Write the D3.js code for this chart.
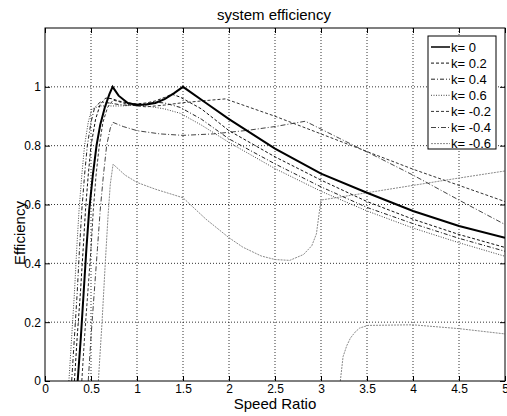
<!DOCTYPE html>
<html>
<head>
<meta charset="utf-8">
<script src="https://cdn.jsdelivr.net/npm/d3@7"></script>
<style>
  body { margin: 0; background: #fff; }
  text { font-family: "Liberation Sans", Arial, sans-serif; fill: #000; }
</style>
</head>
<body>
<div id="chart-area"></div>
<script>
// tick labels
const xTicks = [0, 0.5, 1, 1.5, 2, 2.5, 3, 3.5, 4, 4.5, 5];
const xTickLabels = ["0", "0.5", "1", "1.5", "2", "2.5", "3", "3.5", "4", "4.5", "5"];
const yTicks = [0, 0.2, 0.4, 0.6, 0.8, 1];
const yTickLabels = ["0", "0.2", "0.4", "0.6", "0.8", "1"];

const kLabels = ["k= 0", "k= 0.2", "k= 0.4", "k= 0.6", "k= -0.2", "k= -0.4", "k= -0.6"];

// speed ratio / efficiency
const ratioK0 = [0.355, 0.39, 0.42, 0.45, 0.48, 0.52, 0.56, 0.60, 0.65, 0.70, 0.735, 0.80, 0.90, 1.00, 1.10, 1.20, 1.30, 1.40, 1.50, 1.75, 2.0, 2.5, 3.0, 3.5, 4.0, 4.5, 5.0];
const effK0   = [0, 0.15, 0.30, 0.45, 0.58, 0.70, 0.80, 0.87, 0.93, 0.975, 1.0, 0.97, 0.945, 0.938, 0.94, 0.945, 0.958, 0.978, 1.0, 0.945, 0.89, 0.79, 0.705, 0.64, 0.578, 0.527, 0.487];

const ratioK02 = [0.32, 0.35, 0.385, 0.415, 0.44, 0.47, 0.50, 0.55, 0.60, 0.66, 0.72, 0.80, 0.90, 1.00, 1.10, 1.20, 1.30, 1.38, 1.47, 1.70, 2.0, 2.5, 3.0, 3.5, 4.0, 4.5, 5.0];
const effK02   = [0, 0.15, 0.30, 0.45, 0.58, 0.70, 0.80, 0.89, 0.94, 0.962, 0.96, 0.952, 0.945, 0.942, 0.945, 0.952, 0.964, 0.975, 0.965, 0.925, 0.851, 0.762, 0.683, 0.61, 0.55, 0.498, 0.454];

const ratioK04 = [0.29, 0.32, 0.35, 0.375, 0.40, 0.43, 0.46, 0.50, 0.54, 0.60, 0.70, 0.80, 0.90, 1.00, 1.10, 1.20, 1.30, 1.47, 1.70, 2.0, 2.5, 3.0, 3.5, 4.0, 4.5, 5.0];
const effK04   = [0, 0.15, 0.30, 0.45, 0.58, 0.70, 0.80, 0.88, 0.93, 0.948, 0.945, 0.94, 0.937, 0.937, 0.942, 0.948, 0.945, 0.93, 0.89, 0.823, 0.738, 0.66, 0.59, 0.535, 0.485, 0.441];

const ratioK06 = [0.26, 0.29, 0.32, 0.345, 0.37, 0.40, 0.43, 0.47, 0.51, 0.60, 0.70, 0.80, 0.90, 1.00, 1.10, 1.20, 1.30, 1.47, 1.70, 2.0, 2.5, 3.0, 3.5, 4.0, 4.5, 5.0];
const effK06   = [0, 0.15, 0.30, 0.45, 0.58, 0.70, 0.80, 0.88, 0.925, 0.935, 0.935, 0.935, 0.936, 0.94, 0.935, 0.93, 0.925, 0.91, 0.87, 0.811, 0.722, 0.645, 0.578, 0.52, 0.47, 0.424];

const ratioKm02 = [0.40, 0.43, 0.465, 0.50, 0.525, 0.555, 0.59, 0.63, 0.68, 0.74, 0.80, 0.90, 1.00, 1.10, 1.20, 1.30, 1.47, 1.70, 1.96, 2.5, 3.0, 3.5, 4.0, 4.5, 5.0];
const effKm02   = [0, 0.15, 0.30, 0.45, 0.58, 0.70, 0.80, 0.88, 0.93, 0.955, 0.95, 0.94, 0.935, 0.932, 0.935, 0.938, 0.945, 0.952, 0.959, 0.90, 0.84, 0.78, 0.72, 0.665, 0.61];

const ratioKm04 = [0.47, 0.50, 0.535, 0.57, 0.60, 0.635, 0.67, 0.71, 0.74, 0.85, 1.00, 1.25, 1.50, 1.83, 2.20, 2.50, 2.83, 3.20, 3.64, 4.0, 4.5, 5.0];
const effKm04   = [0, 0.15, 0.30, 0.45, 0.58, 0.70, 0.80, 0.86, 0.879, 0.865, 0.851, 0.84, 0.835, 0.84, 0.852, 0.865, 0.883, 0.825, 0.757, 0.70, 0.615, 0.532];

const ratioKm06 = [0.58, 0.62, 0.655, 0.685, 0.71, 0.74, 0.87, 1.00, 1.20, 1.50, 1.75, 2.00, 2.15, 2.35, 2.50, 2.66, 2.81, 2.90, 2.95, 2.98, 3.00, 3.50, 4.0, 4.5, 5.0];
const effKm06   = [0, 0.2, 0.4, 0.56, 0.67, 0.737, 0.70, 0.675, 0.652, 0.623, 0.55, 0.487, 0.455, 0.425, 0.413, 0.41, 0.43, 0.46, 0.50, 0.57, 0.615, 0.64, 0.665, 0.69, 0.714];
// second branch of k=-0.6 near the bottom
const ratioKm06Low = [3.21, 3.24, 3.28, 3.32, 3.37, 3.42, 3.51, 4.0, 4.5, 5.0];
const effKm06Low   = [0, 0.083, 0.12, 0.146, 0.166, 0.18, 0.189, 0.191, 0.178, 0.16];

const margin = { left: 45, right: 2, top: 28, bottom: 35 };
const W = 507, H = 416;
const width = W - margin.left - margin.right, height = H - margin.top - margin.bottom;

const styles = [
  { color: "#000", w: 2,   dash: null },
  { color: "#111", w: 1,   dash: "3,2" },
  { color: "#222", w: 1,   dash: "4,2,1,2" },
  { color: "#444", w: 1,   dash: "1,1.5" },
  { color: "#333", w: 1,   dash: "3,2" },
  { color: "#444", w: 1,   dash: "5,2,1,2" },
  { color: "#8a8a8a", w: 1, dash: "2,1" }
];

const series = [
  [ratioK0, effK0], [ratioK02, effK02], [ratioK04, effK04], [ratioK06, effK06],
  [ratioKm02, effKm02], [ratioKm04, effKm04], [ratioKm06, effKm06]
].map((p, i) => ({ name: kLabels[i], style: styles[i], pts: p[0].map((r, j) => [r, p[1][j]]) }));
const extraBranch = { style: styles[6], pts: ratioKm06Low.map((r, j) => [r, effKm06Low[j]]) };

const svg = d3.select("#chart-area")
  .append("svg")
    .attr("width", W)
    .attr("height", H);

const g = svg.append("g")
  .attr("transform", "translate(" + margin.left + "," + margin.top + ")");

const x = d3.scaleLinear().domain([0, 5]).range([0, width]);
const y = d3.scaleLinear().domain([0, 1.2]).range([height, 0]);

// grid
g.append("g").selectAll("line")
  .data(xTicks.slice(1, -1))
  .join("line")
    .attr("x1", d => x(d)).attr("x2", d => x(d))
    .attr("y1", 0).attr("y2", height)
    .attr("stroke", "#000").attr("stroke-width", 1)
    .attr("stroke-dasharray", "1,2").attr("opacity", 0.8);

g.append("g").selectAll("line")
  .data(yTicks.slice(1))
  .join("line")
    .attr("x1", 0).attr("x2", width)
    .attr("y1", d => y(d)).attr("y2", d => y(d))
    .attr("stroke", "#000").attr("stroke-width", 1)
    .attr("stroke-dasharray", "1,2").attr("opacity", 0.8);

// curves
g.append("clipPath").attr("id", "plot-clip")
  .append("rect").attr("width", width).attr("height", height);

const line = d3.line().x(d => x(d[0])).y(d => y(d[1]));

const curves = g.append("g").attr("clip-path", "url(#plot-clip)");
series.slice().reverse().concat([extraBranch]).forEach(s => {
  curves.append("path")
    .attr("d", line(s.pts))
    .attr("fill", "none")
    .attr("stroke", s.style.color)
    .attr("stroke-width", s.style.w)
    .attr("stroke-dasharray", s.style.dash);
});

// axes with inward ticks
const xaxis = d3.axisBottom(x)
  .tickValues(xTicks)
  .tickFormat((d, i) => xTickLabels[i])
  .tickSize(-5)
  .tickPadding(3);
const xg = g.append("g")
  .attr("transform", "translate(0," + height + ")")
  .call(xaxis);

const yaxis = d3.axisLeft(y)
  .tickValues(yTicks)
  .tickFormat((d, i) => yTickLabels[i])
  .tickSize(-5)
  .tickPadding(4);
const yg = g.append("g").call(yaxis);

g.append("g").call(d3.axisTop(x).tickValues(xTicks).tickFormat("").tickSize(-5));
g.append("g").attr("transform", "translate(" + width + ",0)")
  .call(d3.axisRight(y).tickValues(yTicks).tickFormat("").tickSize(-5));

g.selectAll(".domain").remove();
g.selectAll(".tick line").attr("stroke", "#000");
[xg, yg].forEach(a => a.selectAll("text")
  .attr("font-size", "12px")
  .attr("font-family", "Liberation Sans, Arial, sans-serif")
  .attr("fill", "#000"));

g.append("rect")
  .attr("width", width).attr("height", height)
  .attr("fill", "none").attr("stroke", "#000").attr("stroke-width", 1);

// Labels
svg.append("text")
  .attr("x", 274).attr("y", 20)
  .attr("font-size", "15px")
  .attr("text-anchor", "middle")
  .text("system efficiency");

svg.append("text")
  .attr("x", 275).attr("y", 409)
  .attr("font-size", "15px")
  .attr("text-anchor", "middle")
  .text("Speed Ratio");

svg.append("text")
  .attr("transform", "translate(25,233) rotate(-90)")
  .attr("font-size", "15px")
  .attr("text-anchor", "middle")
  .text("Efficiency");

// legend
const legend = svg.append("g");
legend.append("rect")
  .attr("x", 428).attr("y", 36)
  .attr("width", 68).attr("height", 113)
  .attr("fill", "#fff").attr("stroke", "#000");

series.forEach((s, i) => {
  const ly = 47 + i * 16.1;
  legend.append("line")
    .attr("x1", 431).attr("x2", 450)
    .attr("y1", ly).attr("y2", ly)
    .attr("stroke", s.style.color)
    .attr("stroke-width", s.style.w === 2 ? 1.5 : 1)
    .attr("stroke-dasharray", s.style.dash);
  legend.append("text")
    .attr("x", 451).attr("y", ly)
    .attr("dy", "0.36em")
    .attr("font-size", "13px")
    .text(s.name);
});
</script>
</body>
</html>
